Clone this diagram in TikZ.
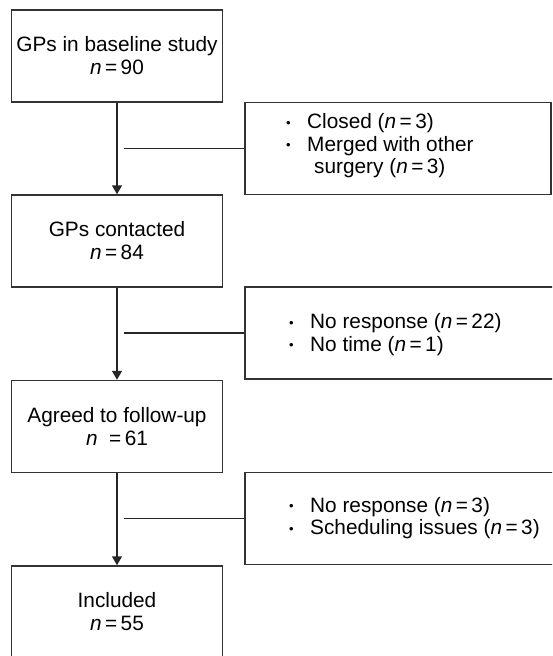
\documentclass[tikz,border=0pt]{standalone}
\usepackage{fontspec}
\setmainfont{Liberation Sans}
\usetikzlibrary{arrows.meta}
\tikzset{
  mainbox/.style={draw=black!80, line width=1.5pt, minimum width=211pt, minimum height=92pt, align=center, inner sep=0pt, font=\fontsize{20.8}{23}\selectfont},
  sidebox/.style={draw=black!80, line width=1.5pt, minimum height=92pt, inner sep=0pt},
  sidetext/.style={align=left, anchor=west, inner sep=0pt, font=\fontsize{20.8}{22.5}\selectfont},
  flow/.style={draw=black!85, line width=1.5pt, -{Triangle[length=9pt,width=10pt]}},
  branch/.style={draw=black!85, line width=1.5pt}
}
\newcommand{\bul}{\makebox[21pt][l]{\fontsize{13}{13}\selectfont\raisebox{1.5pt}{•}}}
\newcommand{\nn}{\textit{n}\,=\,}
\begin{document}
\begin{tikzpicture}[x=1pt,y=-1pt]
\clip (0,0) rectangle (552,656);
\fill[white] (0,0) rectangle (552,656);
% main column
\node[mainbox] (b1) at (117,56) {GPs in baseline study\\\nn 90};
\node[mainbox] (b2) at (117,241) {GPs contacted\\\nn 84};
\node[mainbox] (b3) at (117,426.5) {Agreed to follow-up\\\textit{n}\ \ =\,61};
\node[mainbox] (b4) at (117,612) {Included\\\nn 55};
% side boxes
\node[sidebox, minimum width=306pt] (s1) at (398,148.5) {};
\node[sidebox, minimum width=316pt] (s2) at (403,333) {};
\node[sidebox, minimum width=316pt] (s3) at (403,518.5) {};
\node[sidetext] (t1) at (286,146) {\bul Closed (\nn 3)\\\bul Merged with other\\\hspace*{28pt}surgery (\nn 3)};
\node[sidetext] (t2) at (289,334.5) {\bul No response (\nn 22)\\\bul No time (\nn 1)};
\node[sidetext] (t3) at (289,518) {\bul No response (\nn 3)\\\bul Scheduling issues (\nn 3)};
% connectors
\draw[flow] (b1.south) -- (b2.north);
\draw[flow] (b2.south) -- (b3.north);
\draw[flow] (b3.south) -- (b4.north);
\coordinate (c1) at (124,148.5);
\coordinate (c2) at (124,333);
\coordinate (c3) at (124,518.5);
\draw[branch] (c1) -- (s1.west);
\draw[branch] (c2) -- (s2.west);
\draw[branch] (c3) -- (s3.west);
\end{tikzpicture}
\end{document}
